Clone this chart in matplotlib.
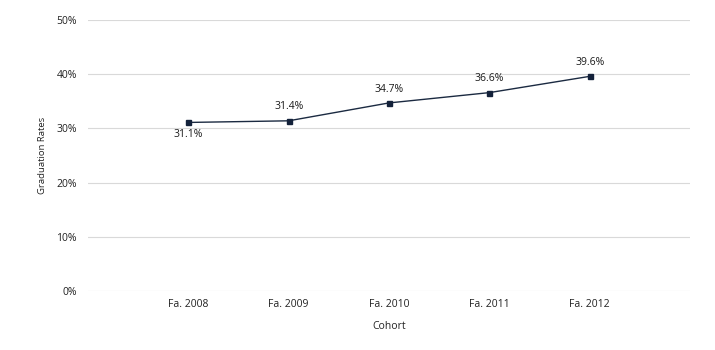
import matplotlib
matplotlib.use("Agg")
import matplotlib.pyplot as plt
from matplotlib.ticker import FuncFormatter

cohorts = ["Fa. 2008", "Fa. 2009", "Fa. 2010", "Fa. 2011", "Fa. 2012"]
rates = [31.1, 31.4, 34.7, 36.6, 39.6]
label_below = [True, False, False, False, False]

plt.rcParams["font.family"] = ["Open Sans", "DejaVu Sans"]

fig = plt.figure(figsize=(7.15, 3.5), dpi=100)
ax = fig.add_axes([88 / 715, 1 - 291 / 350, (690 - 88) / 715, (291 - 20) / 350])

x = list(range(len(cohorts)))
line_color = "#1b2a41"
ax.plot(x, rates, color=line_color, lw=1.0, marker="s", ms=3.6, mfc="#13213a",
        mec="#13213a", zorder=3)

for xi, v, below in zip(x, rates, label_below):
    ax.annotate(f"{v:.1f}%", (xi, v), xytext=(0, -5 if below else 6),
                textcoords="offset points", ha="center",
                va="top" if below else "bottom", fontsize=7.5, color="#1a1a1a")

ax.set_xlim(-1, 5)
ax.set_ylim(0, 50)
ax.set_yticks(range(0, 51, 10))
ax.yaxis.set_major_formatter(FuncFormatter(lambda v, _: f"{v:.0f}%"))
ax.set_xticks(x)
ax.set_xticklabels(cohorts)

ax.grid(axis="y", color="#d9d9d9", lw=0.8)
ax.set_axisbelow(True)
for s in ax.spines.values():
    s.set_visible(False)
ax.tick_params(axis="both", length=0, labelsize=7.5, colors="#222222")
ax.tick_params(axis="y", pad=8)
ax.tick_params(axis="x", pad=6)

ax.set_xlabel("Cohort", fontsize=7.5, color="#222222", labelpad=8)
ax.set_ylabel("Graduation Rates", fontsize=6.8, color="#222222", labelpad=7)

fig.savefig("out.png", dpi=100)
